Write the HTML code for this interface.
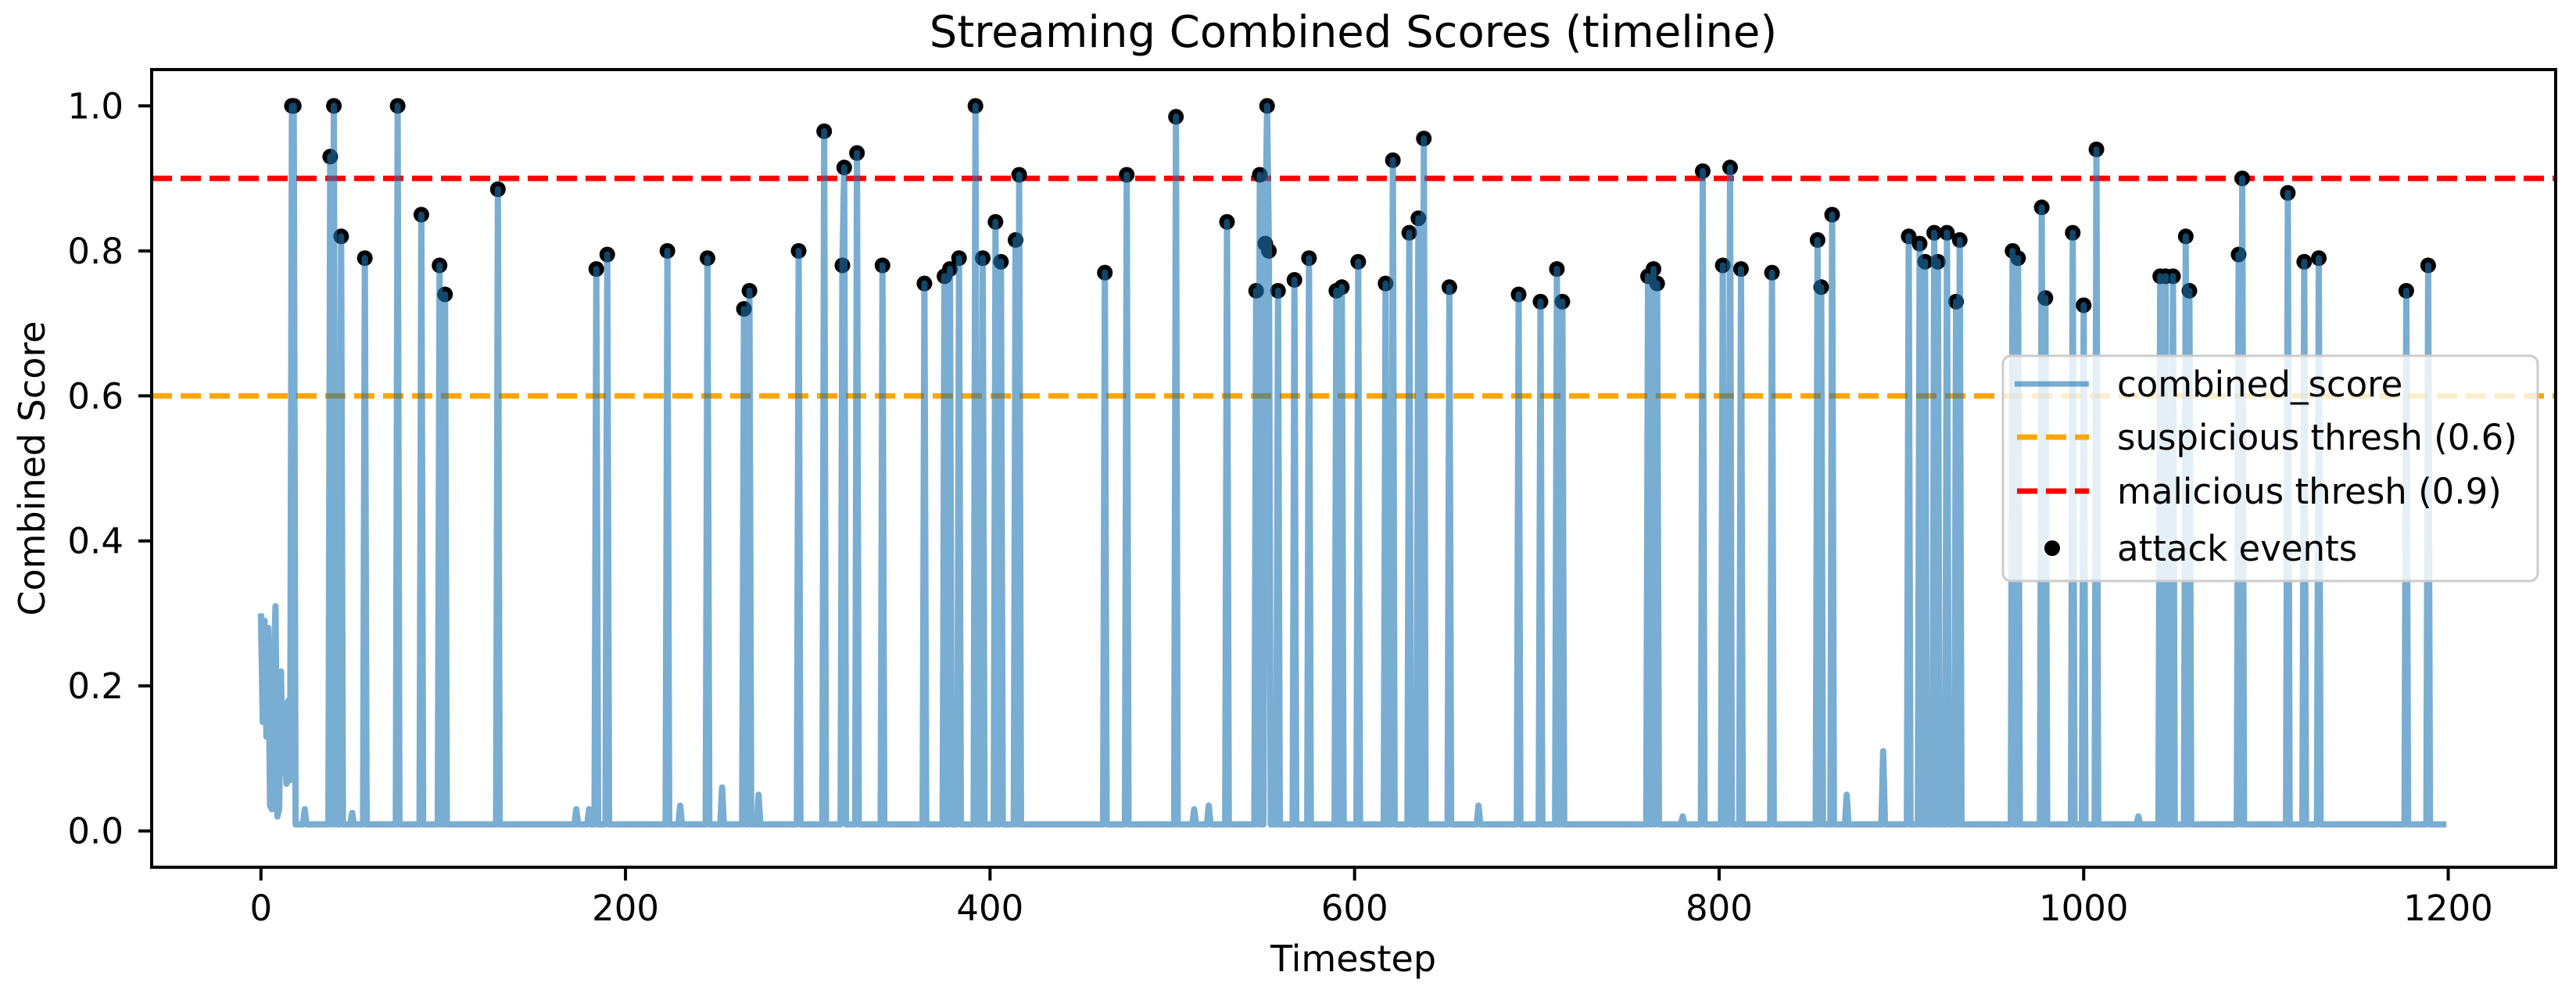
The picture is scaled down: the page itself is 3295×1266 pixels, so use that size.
<!DOCTYPE html>
<html><head><meta charset="utf-8"><style>
html,body{margin:0;padding:0;background:#fff;}
svg{display:block;font-family:"DejaVu Sans","Liberation Sans",sans-serif;}
</style></head><body>
<svg id="chart" width="3295" height="1266" viewBox="0 0 3295 1266" xmlns="http://www.w3.org/2000/svg">
<rect width="3295" height="1266" fill="#fff"/>
<text x="1731" y="60" font-size="56" text-anchor="middle" fill="#000">Streaming Combined Scores (timeline)</text>
<g id="plot"></g>
<text x="1731" y="1242" font-size="46" text-anchor="middle" fill="#000">Timestep</text>
<text transform="translate(57,599) rotate(-90)" font-size="46" text-anchor="middle" fill="#000">Combined Score</text>
</svg>
<script>
const xTicks = [0, 200, 400, 600, 800, 1000, 1200];
const yTicks = [0.0, 0.2, 0.4, 0.6, 0.8, 1.0];
const yTickLabels = ["0.0", "0.2", "0.4", "0.6", "0.8", "1.0"];
const nSteps = 1200;
const baseLevel = 0.009;
const initT = [0,1,2,3,4,5,6,7,8,9,10,11,12,13,14,15,16];
const initV = [0.30,0.15,0.29,0.13,0.28,0.035,0.03,0.22,0.31,0.02,0.03,0.22,0.08,0.175,0.065,0.18,0.07];
const bumpT = [24,50,173,180,230,253,273,520,512,668,780,870,890,1030];
const bumpV = [0.03,0.025,0.03,0.03,0.035,0.06,0.05,0.035,0.03,0.035,0.02,0.05,0.11,0.02];
const eventT = [17,18,38,40,44,57,75,88,98,101,130,184,190,223,245,265,268,295,309,319,320,327,341,364,375,378,383,392,396,403,406,414,416,463,475,502,530,546,548,551,552,553,558,567,575,590,593,602,617,621,630,635,638,652,690,702,711,714,761,764,766,791,802,806,812,829,854,856,862,904,910,913,918,920,925,930,932,961,964,977,979,994,1000,1007,1042,1045,1049,1056,1058,1085,1087,1112,1121,1129,1177,1189];
const eventV = [1.0,1.0,0.93,1.0,0.82,0.79,1.0,0.85,0.78,0.74,0.885,0.775,0.795,0.80,0.79,0.72,0.745,0.80,0.965,0.78,0.915,0.935,0.78,0.755,0.765,0.775,0.79,1.0,0.79,0.84,0.785,0.815,0.905,0.77,0.905,0.985,0.84,0.745,0.905,0.81,1.0,0.80,0.745,0.76,0.79,0.745,0.75,0.785,0.755,0.925,0.825,0.845,0.955,0.75,0.74,0.73,0.775,0.73,0.765,0.775,0.755,0.91,0.78,0.915,0.775,0.77,0.815,0.75,0.85,0.82,0.81,0.785,0.825,0.785,0.825,0.73,0.815,0.80,0.79,0.86,0.735,0.825,0.725,0.94,0.765,0.765,0.765,0.82,0.745,0.795,0.90,0.88,0.785,0.79,0.745,0.78];
const suspiciousThresh = 0.6;
const maliciousThresh = 0.9;

const AX = {l:194, r:3269, t:89, b:1109};
const xMin = -59.95, xMax = 1258.95, yMin = -0.05, yMax = 1.05;
function X(v){ return AX.l + (v - xMin) / (xMax - xMin) * (AX.r - AX.l); }
function Y(v){ return AX.b - (v - yMin) / (yMax - yMin) * (AX.b - AX.t); }
const NS = "http://www.w3.org/2000/svg";
const plot = document.getElementById('plot');
function mk(tag, attrs, parent){
  const e = document.createElementNS(NS, tag);
  for (const k in attrs) e.setAttribute(k, attrs[k]);
  (parent || plot).appendChild(e);
  return e;
}
const defs = mk('defs', {});
const cp = mk('clipPath', {id:'clip'}, defs);
mk('rect', {x:AX.l, y:AX.t, width:AX.r-AX.l, height:AX.b-AX.t}, cp);

const scores = new Array(nSteps).fill(baseLevel);
initT.forEach((t,i)=>{ scores[t] = initV[i]; });
bumpT.forEach((t,i)=>{ scores[t] = bumpV[i]; });
eventT.forEach((t,i)=>{ scores[t] = eventV[i]; });

const susp = mk('line', {x1:AX.l, x2:AX.r, y1:Y(suspiciousThresh), y2:Y(suspiciousThresh), stroke:'#ffa500', 'stroke-width':7, 'stroke-dasharray':'26 11'});


const mal = mk('line', {x1:AX.l, x2:AX.r, y1:Y(maliciousThresh), y2:Y(maliciousThresh), stroke:'#ff0000', 'stroke-width':7, 'stroke-dasharray':'26 11'});



const dots = mk('g', {'clip-path':'url(#clip)'});


eventT.forEach((t,i)=>{
  const c = mk('circle', {cx:X(t), cy:Y(eventV[i]), r:10, fill:'#000'}, dots);
  
  
});

let d = '';
scores.forEach((v,t)=>{ d += (t===0?'M':'L') + X(t).toFixed(2) + ' ' + Y(v).toFixed(2) + ' '; });
const line = mk('path', {d:d, fill:'none', stroke:'#1f77b4', 'stroke-opacity':0.6, 'stroke-width':8, 'stroke-linejoin':'round', 'clip-path':'url(#clip)'});



const frame = mk('rect', {x:AX.l, y:AX.t, width:AX.r-AX.l, height:AX.b-AX.t, fill:'none', stroke:'#000', 'stroke-width':4});



xTicks.forEach(v=>{
  const x = X(v);
  const tk = mk('line', {x1:x, x2:x, y1:AX.b, y2:AX.b+17, stroke:'#000', 'stroke-width':4});
  
  
  const tl = mk('text', {x:x, y:1177, 'font-size':45, 'text-anchor':'middle', fill:'#000'});
  tl.textContent = String(v);
  
  
});
yTicks.forEach((v,i)=>{
  const y = Y(v);
  const tk = mk('line', {x1:AX.l-17, x2:AX.l, y1:y, y2:y, stroke:'#000', 'stroke-width':4});
  
  
  const tl = mk('text', {x:158, y:y+16, 'font-size':45, 'text-anchor':'end', fill:'#000'});
  tl.textContent = yTickLabels[i];
  
  
});

const lg = mk('g', {});


mk('rect', {x:2562, y:455, width:684, height:288, rx:10, fill:'#fff', 'fill-opacity':0.8, stroke:'#cccccc', 'stroke-width':3}, lg);
const entries = [
  {label:'combined_score', y:491, kind:'line'},
  {label:'suspicious thresh (0.6)', y:559, kind:'susp'},
  {label:'malicious thresh (0.9)', y:628, kind:'mal'},
  {label:'attack events', y:701, kind:'dot'}
];
entries.forEach(e=>{
  const g = mk('g', {}, lg);
  
  
  if (e.kind === 'line') mk('line', {x1:2577, x2:2672, y1:e.y, y2:e.y, stroke:'#1f77b4', 'stroke-opacity':0.6, 'stroke-width':7}, g);
  if (e.kind === 'susp') mk('line', {x1:2580, x2:2672, y1:e.y, y2:e.y, stroke:'#ffa500', 'stroke-width':7, 'stroke-dasharray':'26 11'}, g);
  if (e.kind === 'mal') mk('line', {x1:2580, x2:2672, y1:e.y, y2:e.y, stroke:'#ff0000', 'stroke-width':7, 'stroke-dasharray':'26 11'}, g);
  if (e.kind === 'dot') mk('circle', {cx:2625, cy:e.y, r:10, fill:'#000'}, g);
  const t = mk('text', {x:2708, y:e.y+16, 'font-size':45, fill:'#000'}, g);
  t.textContent = e.label;
});
</script>
</body></html>
